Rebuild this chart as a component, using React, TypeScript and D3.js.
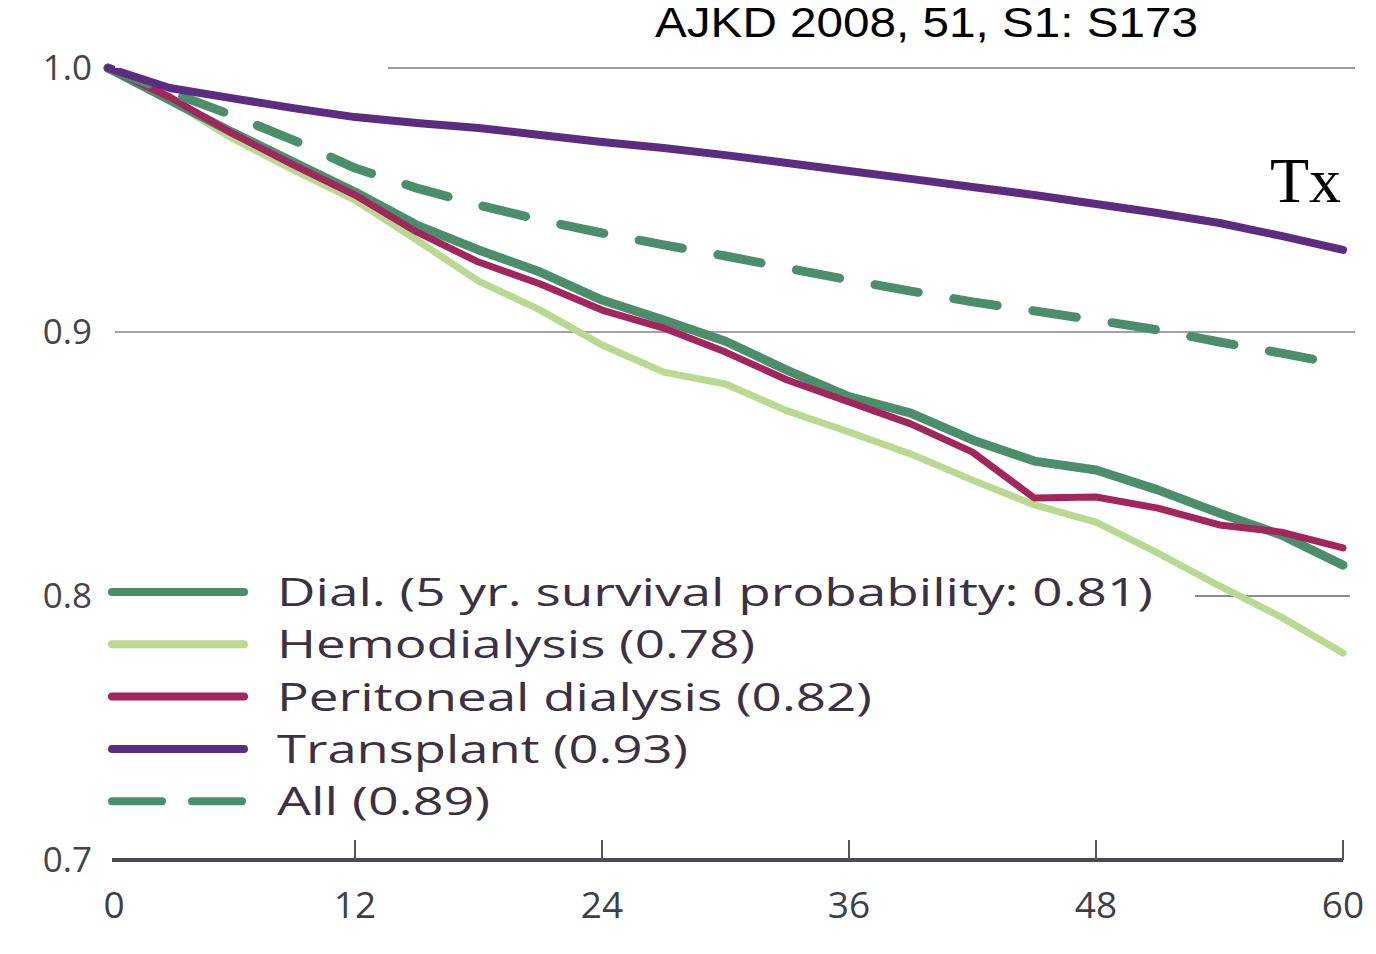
import React from "react";
import * as d3 from "d3";

const months = [0, 3, 6, 9, 12, 15, 18, 21, 24, 27, 30, 33, 36, 39, 42, 45, 48, 51, 54, 57, 60];

const dialValues = [1.0, 0.9879, 0.9758, 0.9644, 0.953, 0.9405, 0.9311, 0.9227, 0.9121, 0.9045, 0.8965, 0.8855, 0.8755, 0.8693, 0.8591, 0.8511, 0.8477, 0.8402, 0.8314, 0.8231, 0.8117];
const hemoValues = [1.0, 0.9879, 0.9735, 0.9614, 0.95, 0.9348, 0.9193, 0.9083, 0.8951, 0.8848, 0.8803, 0.8701, 0.8621, 0.8538, 0.8439, 0.8345, 0.828, 0.8163, 0.8038, 0.792, 0.7784];
const pdValues = [1.0, 0.989, 0.9754, 0.9633, 0.9519, 0.9379, 0.9265, 0.9182, 0.9083, 0.9015, 0.8924, 0.8818, 0.8735, 0.8652, 0.8545, 0.8371, 0.8375, 0.8333, 0.8269, 0.8242, 0.8182];
const txValues = [1.0, 0.9924, 0.9886, 0.9848, 0.9814, 0.9792, 0.9773, 0.9746, 0.972, 0.9697, 0.967, 0.964, 0.961, 0.958, 0.9549, 0.9519, 0.9485, 0.9451, 0.9413, 0.9364, 0.9311];
const allValues = [1.0, 0.9909, 0.9822, 0.9727, 0.9621, 0.9545, 0.9481, 0.9424, 0.9375, 0.933, 0.9288, 0.9242, 0.9197, 0.9155, 0.9114, 0.908, 0.9045, 0.9008, 0.8962, 0.892, 0.8875];

const xTicks = [0, 12, 24, 36, 48, 60];
const yTicks = [0.7, 0.8, 0.9, 1.0];

const legendLabels = [
  "Dial. (5 yr. survival probability: 0.81)",
  "Hemodialysis (0.78)",
  "Peritoneal dialysis (0.82)",
  "Transplant (0.93)",
  "All (0.89)",
];
const legendWidths = [876, 478, 595, 411, 213];

const GREEN = "#4b8e6c";
const LIGHT = "#b9d890";
const PD = "#a2255b";
const TX = "#5c2c80";

export default function App() {
  const x = d3.scaleLinear().domain([0, 60]).range([108, 1343]);
  const y = d3.scaleLinear().domain([0.7, 1.0]).range([860, 68]);
  const line = d3
    .line<number>()
    .x((_, i) => x(months[i]))
    .y((v) => y(v));

  const series = [
    { values: hemoValues, color: LIGHT, w: 7, dash: undefined as string | undefined },
    { values: dialValues, color: GREEN, w: 9, dash: undefined },
    { values: pdValues, color: PD, w: 7, dash: undefined },
    { values: allValues, color: GREEN, w: 9, dash: "44 36" },
    { values: txValues, color: TX, w: 8, dash: undefined },
  ];
  const legendSeries = [
    { color: GREEN, dash: undefined as string | undefined },
    { color: LIGHT, dash: undefined },
    { color: PD, dash: undefined },
    { color: TX, dash: undefined },
    { color: GREEN, dash: "50 30" },
  ];

  const labelFont = "'Open Sans', 'DejaVu Sans', sans-serif";

  return (
    <svg
      width={1376}
      height={954}
      style={{ position: "absolute", left: 0, top: 0, background: "#fff" }}
    >
      <rect x={0} y={0} width={1376} height={954} fill="#fff" />
      {/* gridlines */}
      <line x1={388} x2={1355} y1={y(1.0)} y2={y(1.0)} stroke="#9a9aa0" strokeWidth={2} />
      <line x1={115} x2={1355} y1={y(0.9)} y2={y(0.9)} stroke="#a0a0a6" strokeWidth={2} />
      <line x1={1195} x2={1350} y1={y(0.8)} y2={y(0.8)} stroke="#8a8a90" strokeWidth={2} />

      {/* axis */}
      <line x1={112} x2={x(60)} y1={y(0.7)} y2={y(0.7)} stroke="#4a4a50" strokeWidth={4} />
      {xTicks
        .filter((t) => t > 0)
        .map((t) => (
          <line key={t} x1={x(t)} x2={x(t)} y1={y(0.7)} y2={y(0.7) - 20} stroke="#555" strokeWidth={2} />
        ))}
      {xTicks.map((t) => (
        <text
          key={t}
          x={x(t) + (t === 0 ? 6 : 0)}
          y={918}
          textAnchor="middle"
          fontFamily={labelFont}
          fontSize={37}
          fill="#3e3e48"
        >
          {t}
        </text>
      ))}
      {yTicks.map((t) => (
        <text
          key={t}
          x={92}
          y={y(t) + 12}
          textAnchor="end"
          fontFamily={labelFont}
          fontSize={35}
          fill="#44444c"
        >
          {t.toFixed(1)}
        </text>
      ))}

      {/* series */}
      {series.map((s, i) => (
        <path
          key={i}
          d={line(s.values) || ""}
          fill="none"
          stroke={s.color}
          strokeWidth={s.w}
          strokeDasharray={s.dash}
          strokeLinejoin="round"
          strokeLinecap="round"
        />
      ))}

      {/* white box at top-left */}
      <rect x={115} y={10} width={273} height={58} fill="#fff" />

      {/* legend */}
      {legendLabels.map((lab, i) => {
        const cy = 592 + i * 52.3;
        return (
          <g key={lab}>
            <line
              x1={112}
              x2={244}
              y1={cy}
              y2={cy}
              stroke={legendSeries[i].color}
              strokeWidth={8}
              strokeLinecap="round"
              strokeDasharray={legendSeries[i].dash}
            />
            <text
              x={277}
              y={cy + 14}
              fontFamily={labelFont}
              fontSize={38}
              fill="#3b3142"
              textLength={legendWidths[i]}
              lengthAdjust="spacingAndGlyphs"
            >
              {lab}
            </text>
          </g>
        );
      })}

      {/* annotations */}
      <text
        x={655}
        y={37}
        fontFamily="'Liberation Sans', Arial, sans-serif"
        fontSize={42}
        fill="#000"
        textLength={543}
        lengthAdjust="spacingAndGlyphs"
      >
        AJKD 2008, 51, S1: S173
      </text>
      <text x={1270} y={202} fontFamily="'Liberation Serif', 'Times New Roman', serif" fontSize={64} fill="#000">
        Tx
      </text>
    </svg>
  );
}
